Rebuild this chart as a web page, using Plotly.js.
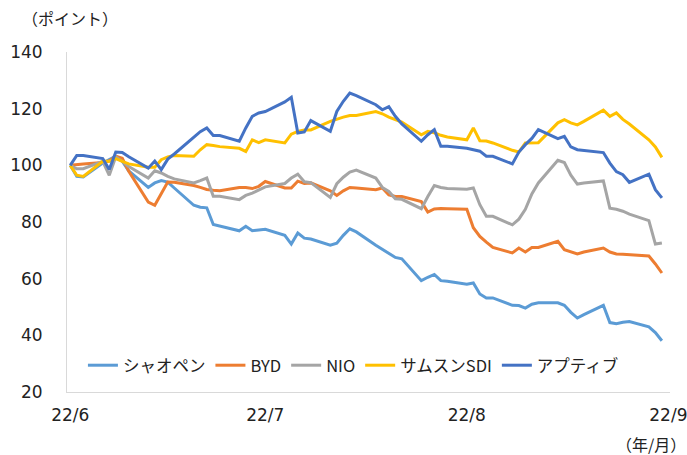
<!DOCTYPE html>
<html>
<head>
<meta charset="utf-8">
<script src="https://cdn.plot.ly/plotly-3.0.1.min.js"></script>
<style>
html,body{margin:0;padding:0;background:#fff;}
#chart{width:687px;height:455px;}
</style>
</head>
<body>
<div id="chart"></div>
<script>
const dates = [
"2022-06-01","2022-06-02","2022-06-03","2022-06-06","2022-06-07","2022-06-08","2022-06-09","2022-06-10",
"2022-06-13","2022-06-14","2022-06-15","2022-06-16","2022-06-17","2022-06-20","2022-06-21","2022-06-22",
"2022-06-23","2022-06-24","2022-06-27","2022-06-28","2022-06-29","2022-06-30","2022-07-01","2022-07-04",
"2022-07-05","2022-07-06","2022-07-07","2022-07-08","2022-07-11","2022-07-12","2022-07-13","2022-07-14",
"2022-07-15","2022-07-18","2022-07-19","2022-07-20","2022-07-21","2022-07-22","2022-07-25","2022-07-26",
"2022-07-27","2022-07-28","2022-07-29","2022-08-01","2022-08-02","2022-08-03","2022-08-04","2022-08-05",
"2022-08-08","2022-08-09","2022-08-10","2022-08-11","2022-08-12","2022-08-15","2022-08-16","2022-08-17",
"2022-08-18","2022-08-19","2022-08-22","2022-08-23","2022-08-24","2022-08-25","2022-08-26","2022-08-29",
"2022-08-30","2022-08-31"];

const xpeng = [100,96.1,95.9,100.8,102,103.2,101.5,98,92.2,93.8,94.6,94.1,92,85.9,85.2,85,
79.1,78.6,76.9,78.5,76.9,77.2,77.4,75.3,72.2,76.1,74.3,74,71.8,72.5,75.3,77.6,
76.5,71.8,70.4,68.9,67.5,67,59.3,60.5,61.5,59.3,59.1,58,58.5,54.6,53.2,53.2,
50.6,50.5,49.6,51,51.5,51.5,50.6,48.1,46.1,47.3,50.6,44.5,44.1,44.6,44.9,43,
41,38.1];

const byd = [100,100.3,100.5,101,101.5,103.2,102.5,97.9,87,85.9,90.2,94.1,94,92.9,92.2,91.5,
91.2,91,92.2,92.2,91.8,92.6,94.3,92,92,94.4,93.6,93.8,91,89.4,91,92.2,
92,91.4,92,89.6,89,89,87.2,83.5,84.6,84.8,84.7,84.5,78,74.9,72.9,71,
69.1,70.8,69.4,71,71,73.2,70.2,69.4,68.7,69.4,70.8,69.4,68.7,68.6,68.4,68,
65.2,62];

const nio = [100,98.8,98.8,101.4,96.5,103,101.4,99.6,95.5,98.1,97.3,96.1,95.2,93.8,94.6,95.5,
89.1,89.1,87.9,89.4,90.2,91.4,92.4,93.6,95.5,96.9,94.2,93.9,88.7,93.5,95.8,97.6,
98.3,95.5,92.2,90.8,88.2,88,84.7,89,92.9,92.2,91.8,91.6,92,86.1,82,82,
79,81,84.5,89.9,93.8,101.8,101,96.5,93.4,93.8,94.5,84.9,84.5,83.8,82.8,80.5,
72.2,72.6];

const samsung = [100,96.5,96.1,101.4,101.4,102.4,101.4,100.5,99.3,99.3,102,103,103.5,103.2,105.5,107.3,
107,106.6,106,104.9,109,108,109,107.9,111,112,112.5,112.5,115.5,116.3,117,117.6,
117.6,119,118.2,117,116.2,115.3,110.8,112,111.5,110.6,110,109,113.2,108.7,108.6,107.9,
105.3,104.7,107.9,108,108,115,116.1,115,114.3,115.5,119.5,117.3,118.5,116.2,114.6,109,
106.5,102.8];

const aptiv = [100,103.5,103.5,102.4,98.5,104.7,104.5,103,99,101.5,98.5,102.2,104,109.8,111.9,113.2,
110.5,110.5,108.5,113.2,117.3,118.5,119,122.4,124,111.4,111.8,115.8,112,119,122.6,125.5,
124.6,121.4,119.6,120.7,117.3,114.6,108.5,110.8,112.6,106.7,106.7,106,105.5,105,103.2,103.2,
100.5,104.7,107.3,109.5,112.6,109.4,110.2,106.5,105.5,105.3,104.5,100.8,97.8,96.7,94,96.9,
91.4,88.5];

const seriesNames = ["シャオペン","BYD","NIO","サムスンSDI","アプティブ"];
const seriesValues = [xpeng, byd, nio, samsung, aptiv];
const seriesColors = ["#5B9BD5","#ED7D31","#A5A5A5","#FFC000","#4472C4"];

const tickDates = ["2022-06-01","2022-07-01","2022-08-01","2022-09-01"];
const tickLabels = ["22/6","22/7","22/8","22/9"];
const yTicks = [20,40,60,80,100,120,140];

const FONT = "DejaVu Sans, Noto Sans CJK JP, sans-serif";
const CJK = "Noto Sans CJK JP, DejaVu Sans, sans-serif";

const traces = seriesNames.map((n,i)=>({
  type:"scatter", mode:"lines", name:n, x:dates, y:seriesValues[i],
  line:{color:seriesColors[i], width:3, shape:"linear"},
  hoverinfo:"skip"
}));

const layout = {
  width:687, height:455,
  margin:{l:67, r:17, t:52, b:63, pad:0},
  paper_bgcolor:"#ffffff", plot_bgcolor:"#ffffff",
  showlegend:true,
  legend:{orientation:"h", x:0.475, xanchor:"center", y:0.078, yanchor:"middle",
    font:{family:CJK, size:16.5, color:"#222"}, bgcolor:"rgba(0,0,0,0)", tracegroupgap:0, itemwidth:30},
  xaxis:{type:"date", range:["2022-05-31 12:00","2022-09-01 06:00"],
    tickvals:tickDates, ticktext:tickLabels, showgrid:false, zeroline:false,
    showline:true, linecolor:"#D9D9D9", linewidth:1, ticks:"", ticklabelstandoff:8,
    ticklabeloverflow:"allow",
    tickfont:{family:FONT, size:17, color:"#222"}},
  yaxis:{range:[20,140], tickvals:yTicks, showgrid:false, zeroline:false,
    showline:true, linecolor:"#D9D9D9", linewidth:1, ticks:"", ticklabelstandoff:20,
    tickfont:{family:FONT, size:17, color:"#222"}},
  annotations:[
    {text:"（ポイント）", xref:"paper", yref:"paper", x:-0.078, xanchor:"left", y:1.1, yanchor:"middle",
      showarrow:false, font:{family:CJK, size:16, color:"#222"}},
    {text:"（年/月）", xref:"paper", yref:"paper", x:1.03, xanchor:"right", y:-0.152, yanchor:"middle",
      showarrow:false, font:{family:CJK, size:16, color:"#222"}}
  ]
};

Plotly.newPlot("chart", traces, layout, {staticPlot:true, displayModeBar:false});
</script>
</body>
</html>
